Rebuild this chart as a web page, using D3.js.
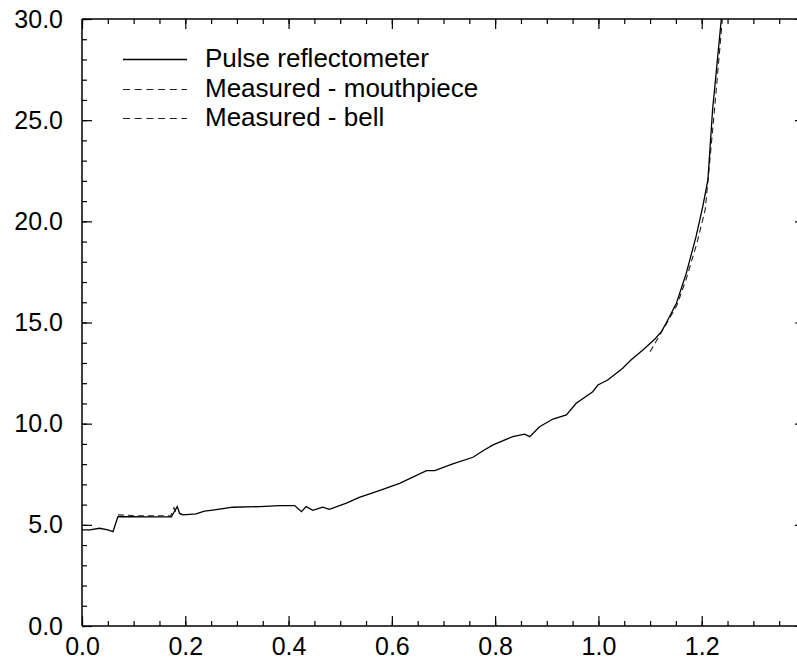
<!DOCTYPE html>
<head>
<meta charset="utf-8">
<style>
body { margin: 0; background: #fff; }
svg { display: block; }
.chart text { font-family: "Liberation Sans", Arial, sans-serif; font-size: 26px; fill: #000; }
.chart .axis text { font-size: 25px; }
.frame line { stroke: #000; stroke-width: 1.5; }
.axis path { display: none; }
.axis line { stroke: #000; stroke-width: 1.2; }
.pulse { fill: none; stroke: #000; stroke-width: 1.3; }
.measured { fill: none; stroke: #222; stroke-width: 1.1; stroke-dasharray: 6,4; }
</style>
</head>
<body>
<svg class="chart"></svg>
<script src="https://cdnjs.cloudflare.com/ajax/libs/d3/7.8.5/d3.min.js"></script>
<script>

/* global d3 */

// pulse reflectometer (solid)
const pulseX = [0.000, 0.015, 0.034, 0.050, 0.060, 0.0695, 0.092, 0.131, 0.173, 0.1845, 0.189, 0.195,
  0.208, 0.221, 0.237, 0.253, 0.292, 0.344, 0.383, 0.412, 0.425, 0.434, 0.447, 0.466, 0.479,
  0.512, 0.537, 0.570, 0.615, 0.667, 0.683, 0.718, 0.757, 0.779, 0.796, 0.834, 0.857, 0.867,
  0.886, 0.912, 0.938, 0.957, 0.989, 0.999, 1.018, 1.047, 1.063, 1.086, 1.109, 1.122, 1.131,
  1.141, 1.151, 1.170, 1.189, 1.202, 1.212, 1.221, 1.238]
const pulseY = [4.75, 4.75, 4.83, 4.75, 4.66, 5.40, 5.40, 5.39, 5.40, 5.90, 5.57, 5.49,
  5.52, 5.54, 5.68, 5.73, 5.87, 5.90, 5.95, 5.95, 5.65, 5.90, 5.72, 5.87, 5.77,
  6.07, 6.36, 6.64, 7.05, 7.68, 7.68, 8.01, 8.34, 8.70, 8.95, 9.36, 9.48, 9.36,
  9.85, 10.23, 10.43, 11.01, 11.58, 11.91, 12.16, 12.74, 13.15, 13.64, 14.17, 14.55, 14.96,
  15.46, 15.95, 17.43, 19.24, 20.73, 22.05, 25.5, 30.0]

// measured - mouthpiece (dashed)
const mouthX = [0.0695, 0.121, 0.157, 0.1715, 0.178, 0.182, 0.195]
const mouthY = [5.49, 5.44, 5.45, 5.44, 5.85, 5.60, 5.51]

// measured - bell (dashed)
const bellX = [1.100, 1.117, 1.134, 1.152, 1.170, 1.191, 1.207, 1.224, 1.240]
const bellY = [13.55, 14.30, 15.05, 15.85, 17.15, 18.95, 20.60, 25.3, 30.0]

const xTicks = [0, 0.2, 0.4, 0.6, 0.8, 1.0, 1.2]
const yTicks = [0, 5, 10, 15, 20, 25, 30]
const legendLabels = ['Pulse reflectometer', 'Measured - mouthpiece', 'Measured - bell']

const width = 797
const height = 661
const plot = {left: 82, right: 805, top: 19, bottom: 626}

let chart = d3.select('svg')
  .attr('width', width)
  .attr('height', height)

const x = d3.scaleLinear().domain([0, 1.4]).range([plot.left, plot.right])
const y = d3.scaleLinear().domain([0, 30]).range([plot.bottom, plot.top])

const xMinor = d3.range(0, 1.401, 0.05)
const yMinor = d3.range(0, 30.01, 1)

chart.append('defs').append('clipPath').attr('id', 'clip')
  .append('rect')
    .attr('x', plot.left).attr('y', plot.top)
    .attr('width', plot.right - plot.left).attr('height', plot.bottom - plot.top)

// axes: minor and major ticks pointing inward
function tickAxis(axis, ticks, size, transform) {
  chart.append('g')
    .attr('class', 'axis')
    .attr('transform', transform)
    .call(axis.tickValues(ticks).tickSizeInner(-size).tickSizeOuter(0).tickFormat(''))
}

tickAxis(d3.axisBottom(x), xMinor, 5, `translate(0,${plot.bottom})`)
tickAxis(d3.axisTop(x), xMinor, 5, `translate(0,${plot.top})`)
tickAxis(d3.axisLeft(y), yMinor, 5, `translate(${plot.left},0)`)
tickAxis(d3.axisRight(y), yMinor, 5, `translate(${plot.right},0)`)
tickAxis(d3.axisTop(x), xTicks, 10, `translate(0,${plot.top})`)
tickAxis(d3.axisRight(y), yTicks, 10, `translate(${plot.right},0)`)

chart.append('g')
  .attr('class', 'axis')
  .attr('transform', `translate(0,${plot.bottom})`)
  .call(d3.axisBottom(x).tickValues(xTicks).tickSizeInner(-10).tickSizeOuter(0)
    .tickPadding(11.5).tickFormat(d3.format('.1f')))

chart.append('g')
  .attr('class', 'axis')
  .attr('transform', `translate(${plot.left},0)`)
  .call(d3.axisLeft(y).tickValues(yTicks).tickSizeInner(-10).tickSizeOuter(0)
    .tickPadding(19).tickFormat(d3.format('.1f')))

chart.selectAll('.axis text')
  .attr('font-family', null).attr('font-size', null)

let frame = chart.append('g').attr('class', 'frame')
frame.append('line').attr('x1', plot.left).attr('x2', plot.right).attr('y1', plot.bottom).attr('y2', plot.bottom)
frame.append('line').attr('x1', plot.left).attr('x2', plot.right).attr('y1', plot.top).attr('y2', plot.top)
frame.append('line').attr('x1', plot.left).attr('x2', plot.left).attr('y1', plot.top).attr('y2', plot.bottom)
frame.append('line').attr('x1', plot.right).attr('x2', plot.right).attr('y1', plot.top).attr('y2', plot.bottom)

// series
const line = d3.line().x(d => x(d[0])).y(d => y(d[1]))
const zip = (xs, ys) => xs.map((v, i) => [v, ys[i]])

let series = chart.append('g').attr('clip-path', 'url(#clip)')
series.append('path').attr('class', 'measured').attr('d', line(zip(mouthX, mouthY)))
series.append('path').attr('class', 'measured').attr('d', line(zip(bellX, bellY)))
series.append('path').attr('class', 'pulse').attr('d', line(zip(pulseX, pulseY)))

// legend
let legend = chart.append('g').attr('transform', 'translate(123,0)')
let rows = legend.selectAll('g')
  .data(legendLabels)
  .enter()
  .append('g')
    .attr('transform', (d, i) => `translate(0,${[66.5, 96.5, 125.5][i]})`)

rows.append('line')
  .attr('class', (d, i) => i === 0 ? 'pulse' : 'measured')
  .attr('x1', 0).attr('x2', 64)
  .attr('y1', -7).attr('y2', -7)
  .style('stroke-dasharray', (d, i) => i === 0 ? null : '7,4.7')

rows.append('text')
  .attr('x', 82)
  .text(d => d)

</script>
</body>
